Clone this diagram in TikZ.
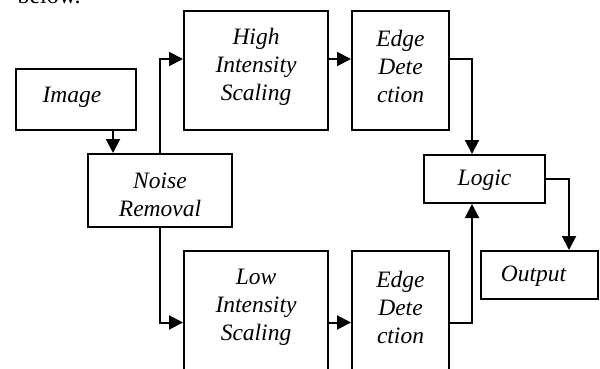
\documentclass[tikz,border=0pt]{standalone}
\usepackage{fontspec}
\setmainfont{Liberation Serif}
\usetikzlibrary{arrows.meta}
\begin{document}
\begin{tikzpicture}[x=1pt,y=-1pt,
  blk/.style={draw=black,line width=2pt,fill=white,inner sep=0pt},
  lbl/.style={inner sep=0pt,align=center,font=\fontsize{23.5}{28}\selectfont\itshape},
  conn/.style={line width=2pt,-{Triangle[length=14pt,width=14pt]}}]
\useasboundingbox (0,0) rectangle (600,368);
\node[anchor=base west,font=\fontsize{24}{28}\selectfont] (txt) at (14,3) {below.};
\node[blk,minimum width=120pt,minimum height=61pt] (img) at (76,99.5) {};
\node[blk,minimum width=144pt,minimum height=73pt] (noise) at (160,190.5) {};
\node[blk,minimum width=144pt,minimum height=119pt] (high) at (256,70.5) {};
\node[blk,minimum width=97pt,minimum height=119pt] (edgeA) at (400.5,70.5) {};
\node[blk,minimum width=144pt,minimum height=119pt] (low) at (256,310.5) {};
\node[blk,minimum width=97pt,minimum height=119pt] (edgeB) at (400.5,310.5) {};
\node[blk,minimum width=121pt,minimum height=48pt] (logic) at (484.5,179) {};
\node[blk,minimum width=117pt,minimum height=48pt] (out) at (539.5,275) {};
\node[lbl] (imgT) at ([xshift=-4pt,yshift=2pt]img.center) {Image};
\node[lbl] (noiseT) at ([yshift=-4pt]noise.center) {Noise\\Removal};
\node[lbl] (highT) at ([yshift=4pt]high.center) {High\\Intensity\\Scaling};
\node[lbl] (edgeAT) at ([yshift=4pt]edgeA.center) {Edge\\Dete\\ction};
\node[lbl] (lowT) at ([yshift=3pt]low.center) {Low\\Intensity\\Scaling};
\node[lbl] (edgeBT) at ([yshift=3pt]edgeB.center) {Edge\\Dete\\ction};
\node[lbl] (logicT) at ([yshift=-1pt]logic.center) {Logic};
\node[lbl] (outT) at ([xshift=-6pt,yshift=-1pt]out.center) {Output};
\draw[conn] ([xshift=37pt]img.south) -- ([xshift=37pt]img.south |- noise.north);
\draw[conn] (noise.north) |- ([yshift=11.5pt]high.west);
\draw[conn] ([yshift=11.5pt]high.east) -- ([yshift=11.5pt]edgeA.west);
\draw[conn] ([yshift=11.5pt]edgeA.east) -| ([xshift=-12.5pt]logic.north);
\draw[conn] (noise.south) |- ([yshift=-12pt]low.west);
\draw[conn] ([yshift=-12pt]low.east) -- ([yshift=-12pt]edgeB.west);
\draw[conn] ([yshift=-12pt]edgeB.east) -| ([xshift=-12.5pt]logic.south);
\draw[conn] (logic.east) -| ([xshift=29.5pt]out.north);
\end{tikzpicture}
\end{document}
